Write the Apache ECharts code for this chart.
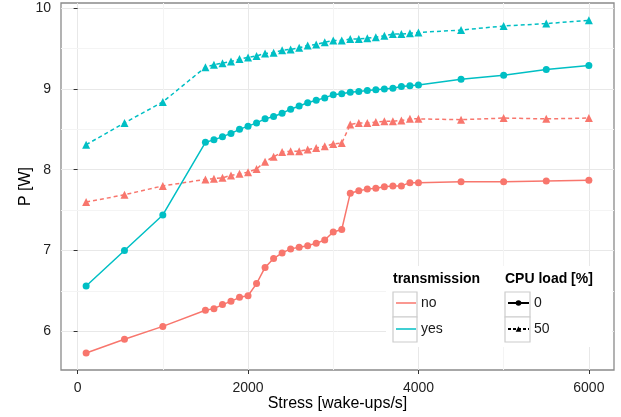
<!DOCTYPE html>
<html>
<head>
<meta charset="utf-8">
<script src="https://cdn.jsdelivr.net/npm/echarts@6/dist/echarts.min.js"></script>
<style>
  html, body { margin: 0; padding: 0; background: #fff; }
  #chart { width: 621px; height: 417px; }
</style>
</head>
<body>
<div id="chart"></div>
<script>
/* Power vs. stress — ECharts line chart */
'use strict';

// ── Data ──────────────────────────────────────────────────────────────────────
const stress = [100, 550, 1000, 1500, 1600, 1700, 1800, 1900, 2000, 2100, 2200,
                2300, 2400, 2500, 2600, 2700, 2800, 2900, 3000, 3100, 3200, 3300,
                3400, 3500, 3600, 3700, 3800, 3900, 4000, 4500, 5000, 5500, 6000];

// transmission = no
const noLoad0  = [5.73, 5.90, 6.06, 6.26, 6.28, 6.33, 6.37, 6.42, 6.44, 6.59, 6.79,
                  6.90, 6.97, 7.02, 7.04, 7.06, 7.09, 7.13, 7.23, 7.26, 7.71, 7.74,
                  7.76, 7.77, 7.79, 7.80, 7.80, 7.84, 7.84, 7.85, 7.85, 7.86, 7.87];
const noLoad50 = [7.60, 7.69, 7.80, 7.88, 7.89, 7.90, 7.93, 7.95, 7.97, 8.01, 8.10,
                  8.16, 8.22, 8.23, 8.23, 8.25, 8.27, 8.29, 8.32, 8.33, 8.56, 8.58,
                  8.58, 8.59, 8.60, 8.60, 8.61, 8.63, 8.63, 8.62, 8.64, 8.63, 8.64];
// transmission = yes
const yesLoad0  = [6.56, 7.00, 7.44, 8.34, 8.37, 8.41, 8.45, 8.50, 8.54, 8.58, 8.63,
                   8.66, 8.70, 8.75, 8.79, 8.83, 8.86, 8.89, 8.93, 8.94, 8.96, 8.97,
                   8.98, 8.99, 9.00, 9.01, 9.03, 9.04, 9.05, 9.12, 9.17, 9.24, 9.29];
const yesLoad50 = [8.31, 8.58, 8.84, 9.27, 9.30, 9.32, 9.34, 9.37, 9.39, 9.41, 9.44,
                   9.45, 9.48, 9.49, 9.51, 9.54, 9.55, 9.58, 9.60, 9.60, 9.62, 9.62,
                   9.63, 9.64, 9.66, 9.68, 9.68, 9.69, 9.70, 9.73, 9.78, 9.81, 9.85];

const xTicks = [0, 2000, 4000, 6000];
const xMinor = [1000, 3000, 5000];
const yTicks = [6, 7, 8, 9, 10];
const yMinor = [6.5, 7.5, 8.5, 9.5];

const transmissionKeys = ['no', 'yes'];
const loadKeys         = ['0', '50'];

// ── Style helpers ─────────────────────────────────────────────────────────────
const RED  = '#F8766D';
const TEAL = '#00BFC4';
const FONT = '"Liberation Sans", Arial, sans-serif';

function pairs(ys) { return stress.map((x, i) => [x, ys[i]]); }

function dataSeries(name, ys, color, dashed) {
  return {
    name,
    type:         'line',
    data:         pairs(ys),
    z:            3,
    symbol:       dashed ? 'triangle' : 'circle',
    symbolSize:   dashed ? 8 : 7,
    showAllSymbol: true,
    itemStyle:    { color },
    lineStyle:    { color, width: 1.5, type: dashed ? [4, 3] : 'solid' },
    emphasis:     { disabled: true },
  };
}

// empty series, only there to feed the two legends
function keySeries(name, color, symbol, dashed) {
  return {
    name,
    type:      'line',
    data:      [],
    symbol,
    itemStyle: { color },
    lineStyle: { color, width: 1.5, type: dashed ? [3, 2] : 'solid' },
  };
}

const legendText = { fontSize: 14, color: '#1a1a1a', fontFamily: FONT };

// ── Chart ─────────────────────────────────────────────────────────────────────
const chart = echarts.init(document.getElementById('chart'), null, { renderer: 'canvas' });

chart.setOption({
  animation: false,
  backgroundColor: '#fff',
  grid: {
    left: 61, right: 7, top: 3, bottom: 47,
    show: true, borderColor: '#8a8a8a', borderWidth: 1.3, backgroundColor: '#fff',
  },
  xAxis: {
    type: 'value', min: -195, max: 6295,
    axisLine:  { show: false },
    axisTick:  { show: true, length: 4, customValues: xTicks, lineStyle: { color: '#333', width: 1 } },
    axisLabel: { customValues: xTicks, margin: 11, color: '#222', fontSize: 14, fontFamily: FONT,
                 formatter: v => String(v) },
    splitLine: { show: true, lineStyle: { color: '#e8e8e8', width: 1 } },
    name: 'Stress [wake-ups/s]', nameLocation: 'middle', nameGap: 26, nameMoveOverlap: false,
    nameTextStyle: { fontSize: 16, color: '#000', fontFamily: FONT },
  },
  yAxis: {
    type: 'value', min: 5.52, max: 10.065,
    axisLine:  { show: false },
    axisTick:  { show: true, length: 4, customValues: yTicks, lineStyle: { color: '#333', width: 1 } },
    axisLabel: { customValues: yTicks, margin: 10, color: '#222', fontSize: 14, fontFamily: FONT,
                 formatter: v => String(v) },
    splitLine: { show: true, lineStyle: { color: '#e8e8e8', width: 1 } },
    name: 'P [W]', nameLocation: 'middle', nameGap: 27, nameMoveOverlap: false,
    nameTextStyle: { fontSize: 16, color: '#000', fontFamily: FONT },
  },
  legend: [
    {
      data: transmissionKeys.map(n => ({ name: n, icon: 'rect' })),
      orient: 'vertical', left: 396, top: 296, padding: 0, z: 6,
      itemWidth: 20, itemHeight: 1.5, itemGap: 12, selectedMode: false,
      itemStyle: { borderWidth: 0 },
      textStyle: legendText,
    },
    {
      data: loadKeys,
      orient: 'vertical', left: 507, top: 296, padding: 0, z: 6,
      itemWidth: 21, itemHeight: 7, itemGap: 12, selectedMode: false,
      textStyle: legendText,
    },
  ],
  graphic: [
    { type: 'rect', z: 5, silent: true, shape: { x: 386, y: 266, width: 226, height: 81 },
      style: { fill: '#fff' } },
    { type: 'rect', z: 5, silent: true, shape: { x: 393, y: 292, width: 24, height: 25 },
      style: { fill: '#fff', stroke: '#cccccc', lineWidth: 1.2 } },
    { type: 'rect', z: 5, silent: true, shape: { x: 393, y: 317, width: 24, height: 25 },
      style: { fill: '#fff', stroke: '#cccccc', lineWidth: 1.2 } },
    { type: 'rect', z: 5, silent: true, shape: { x: 505, y: 292, width: 25, height: 25 },
      style: { fill: '#fff', stroke: '#cccccc', lineWidth: 1.2 } },
    { type: 'rect', z: 5, silent: true, shape: { x: 505, y: 317, width: 25, height: 25 },
      style: { fill: '#fff', stroke: '#cccccc', lineWidth: 1.2 } },
    { type: 'text', z: 6, silent: true, x: 393, y: 279,
      style: { text: 'transmission', fontSize: 14, fontWeight: 'bold', fill: '#000',
               fontFamily: FONT, verticalAlign: 'middle' } },
    { type: 'text', z: 6, silent: true, x: 505, y: 279,
      style: { text: 'CPU load [%]', fontSize: 14, fontWeight: 'bold', fill: '#000',
               fontFamily: FONT, verticalAlign: 'middle' } },
  ],
  series: [
    // minor grid lines, kept below the data
    {
      name: 'minor', type: 'line', data: [], z: 1, silent: true,
      markLine: {
        z: 1, silent: true, symbol: 'none', label: { show: false }, animation: false,
        lineStyle: { color: '#f4f4f4', width: 1, type: 'solid' },
        emphasis: { disabled: true },
        data: xMinor.map(v => ({ xAxis: v })).concat(yMinor.map(v => ({ yAxis: v }))),
      },
    },
    dataSeries('no · 0',   noLoad0,   RED,  false),
    dataSeries('no · 50',  noLoad50,  RED,  true),
    dataSeries('yes · 0',  yesLoad0,  TEAL, false),
    dataSeries('yes · 50', yesLoad50, TEAL, true),
    keySeries('no',  RED,  'none',     false),
    keySeries('yes', TEAL, 'none',     false),
    keySeries('0',   '#000', 'circle',   false),
    keySeries('50',  '#000', 'triangle', true),
  ],
});
</script>
</body>
</html>
